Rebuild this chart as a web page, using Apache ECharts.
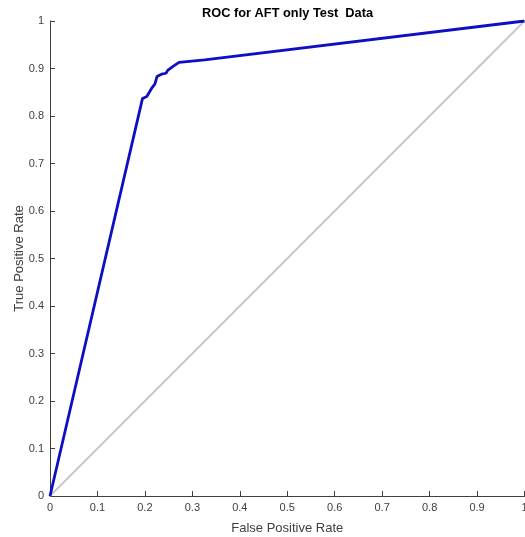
<!DOCTYPE html>
<html>
<head>
<meta charset="utf-8">
<script src="https://cdn.jsdelivr.net/npm/echarts@6/dist/echarts.min.js"></script>
<style>html,body{margin:0;padding:0;background:#fff}#c{width:525px;height:537px}</style>
</head>
<body>
<div id="c"></div>
<script>
const titleText = 'ROC for AFT only Test  Data';
const xName = 'False Positive Rate';
const yName = 'True Positive Rate';
const fpr = [0, 0.195, 0.204, 0.214, 0.221, 0.2255, 0.235, 0.2445, 0.248, 0.26, 0.272, 0.326, 1];
const tpr = [0, 0.837, 0.841, 0.858, 0.867, 0.883, 0.888, 0.890, 0.896, 0.905, 0.913, 0.918, 1];
const diagX = [0, 1];
const diagY = [0, 1];

const chart = echarts.init(document.getElementById('c'));
const axisCol = '#404040';
const font = 'Liberation Sans, Arial, sans-serif';
chart.setOption({
  animation: false,
  backgroundColor: '#fff',
  title: {
    text: titleText, left: 197, top: 2,
    textStyle: {fontFamily: font, fontSize: 12.8, fontWeight: 'bold', color: '#000'}
  },
  grid: {left: 50, right: 0.5, top: 21, bottom: 41, containLabel: false, outerBoundsMode: 'none'},
  xAxis: {
    type: 'value', min: 0, max: 1, interval: 0.1,
    name: xName, nameLocation: 'middle', nameGap: 26,
    nameTextStyle: {fontFamily: font, fontSize: 13, color: axisCol},
    axisLine: {show: true, lineStyle: {color: axisCol, width: 1}},
    axisTick: {show: true, inside: true, length: 5, lineStyle: {color: axisCol}},
    axisLabel: {fontFamily: font, fontSize: 11, color: axisCol, margin: 6},
    splitLine: {show: false}
  },
  yAxis: {
    type: 'value', min: 0, max: 1, interval: 0.1,
    name: yName, nameLocation: 'middle', nameGap: 24, nameMoveOverlap: false,
    nameTextStyle: {fontFamily: font, fontSize: 13, color: axisCol},
    axisLine: {show: true, lineStyle: {color: axisCol, width: 1}},
    axisTick: {show: true, inside: true, length: 5, lineStyle: {color: axisCol}},
    axisLabel: {fontFamily: font, fontSize: 11, color: axisCol, margin: 6},
    splitLine: {show: false}
  },
  series: [
    {
      type: 'line', data: diagX.map((v, i) => [v, diagY[i]]),
      showSymbol: false, symbol: 'none',
      lineStyle: {color: '#c8c8c8', width: 2}, z: 1
    },
    {
      type: 'line', data: fpr.map((v, i) => [v, tpr[i]]),
      showSymbol: false, symbol: 'none',
      lineStyle: {color: '#0e0ec4', width: 2.8}, z: 2
    }
  ]
});
</script>
</body>
</html>
